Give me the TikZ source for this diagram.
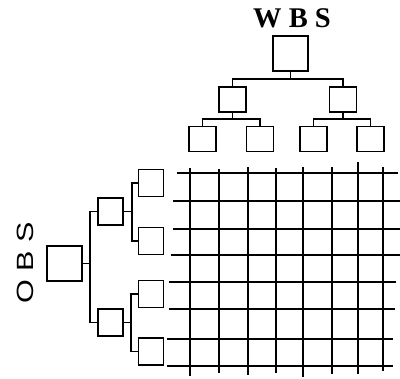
\documentclass[tikz,border=0pt]{standalone}
\usepackage{fontspec}
\setmainfont{Liberation Serif}
\newfontfamily\labsans{Liberation Sans}
\begin{document}
\begin{tikzpicture}[x=1pt,y=-1pt,line width=1.1pt,
  bigbox/.style={draw,minimum width=35pt,minimum height=35pt,inner sep=0pt},
  wbox/.style={draw,minimum width=27pt,minimum height=25pt,inner sep=0pt},
  obox/.style={draw,minimum width=25pt,minimum height=27pt,inner sep=0pt},
  link/.style={draw,line width=1.1pt},
  gridline/.style={line width=1.1pt}]
\useasboundingbox (0,0) rectangle (400,379);

% breakdown structure along the top
\node[font=\bfseries\fontsize{28.5}{28.5}\selectfont,inner sep=0pt] (wbs) at (292,18.5) {W B S};
\node[bigbox] (w0) at (290.5,53.5) {};
\node[wbox] (w1) at (232.5,99.5) {};
\node[wbox] (w2) at (343,99.5) {};
\node[wbox] (w11) at (202.5,139) {};
\node[wbox] (w12) at (260,139) {};
\node[wbox] (w21) at (313.5,139) {};
\node[wbox] (w22) at (370.5,139) {};
\coordinate (wbar0) at (0,79);
\coordinate (wbar1) at (0,119);
\draw[link] (w0.south) -- (w0.south |- wbar0);
\draw[link] (w1.north) |- (w2.north |- wbar0) -- (w2.north);
\draw[link] (w1.south) -- (w1.south |- wbar1);
\draw[link] (w11.north) |- (w12.north |- wbar1) -- (w12.north);
\draw[link] (w2.south) -- (w2.south |- wbar1);
\draw[link] (w21.north) |- (w22.north |- wbar1) -- (w22.north);

% breakdown structure along the left side
\node[font=\labsans\fontsize{23.5}{23.5}\selectfont,rotate=90,inner sep=0pt] (obs) at (25.5,263)
  {\scalebox{1.3}[1]{O B S}};
\node[bigbox] (o0) at (64.5,263.5) {};
\node[obox] (o1) at (110.5,211.5) {};
\node[obox] (o2) at (110.5,322.5) {};
\node[obox] (o11) at (151,183) {};
\node[obox] (o12) at (151,241) {};
\node[obox] (o13) at (151,294) {};
\node[obox] (o14) at (151,351.5) {};
\coordinate (obar0) at (90,0);
\coordinate (obar1) at (132,0);
\coordinate (obar2) at (131,0);
\draw[link] (o0.east) -- (o0.east -| obar0);
\draw[link] (o1.west) -| (obar0 |- o2.west) -- (o2.west);
\draw[link] (o1.east) -- (o1.east -| obar1);
\draw[link] (o11.west) -| (obar1 |- o12.west) -- (o12.west);
\draw[link] (o2.east) -- (o2.east -| obar2);
\draw[link] (o13.west) -| (obar2 |- o14.west) -- (o14.west);

% matrix grid
\foreach \x/\t/\b in {190/168/376,219/169/373,248/167/375,276/168/373,
                       303/167/377,332/167/374,358/162/374,383/167/371}
  \draw[gridline] (\x,\t) -- (\x,\b);
\foreach \y/\l/\r in {173/177/398,201/173/400,229/173/400,255/171/400,
                      282/169/396,309/169/395,339/167/393,366/167/393}
  \draw[gridline] (\l,\y) -- (\r,\y);
\end{tikzpicture}
\end{document}
